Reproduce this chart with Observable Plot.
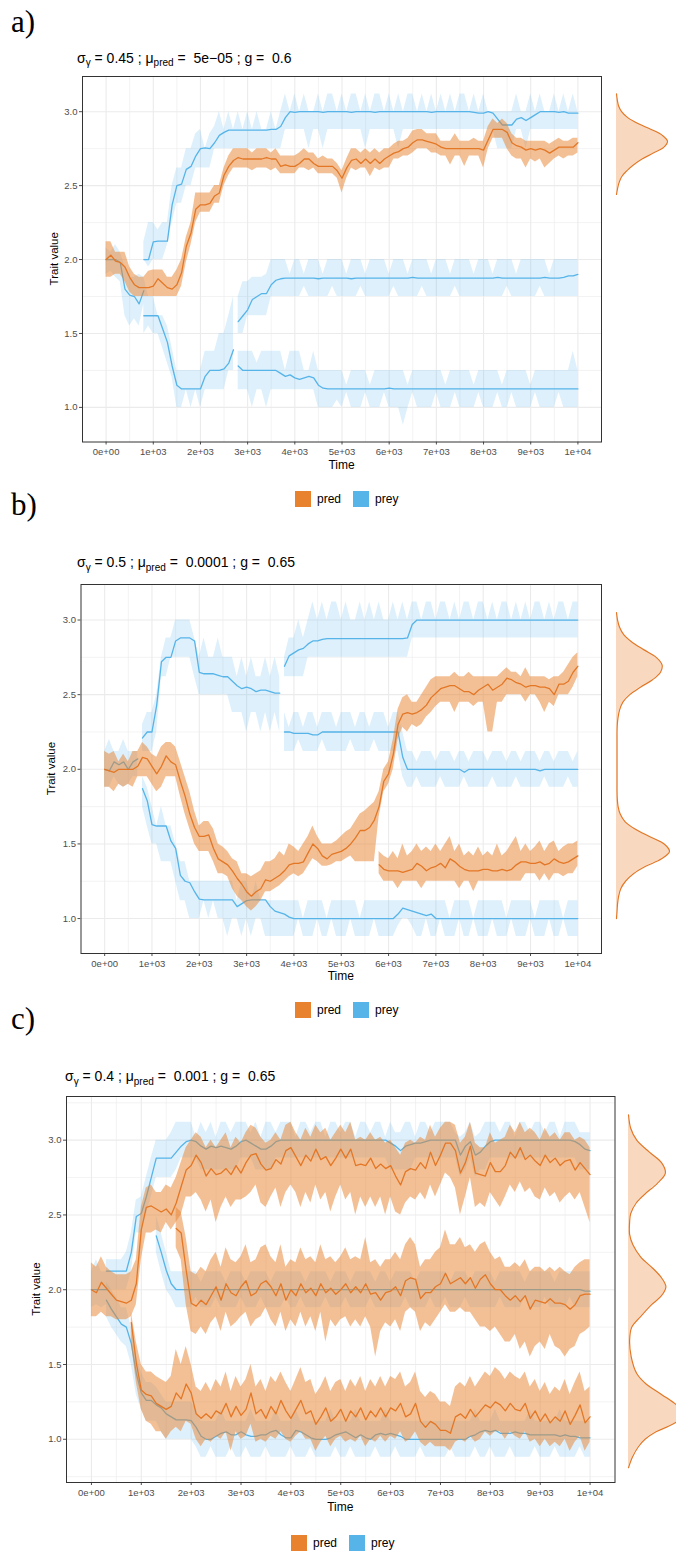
<!DOCTYPE html>
<html><head><meta charset="utf-8">
<script src="https://cdn.jsdelivr.net/npm/d3@7"></script>
<script src="https://cdn.jsdelivr.net/npm/@observablehq/plot@0.6"></script>
<style>
body{margin:0;background:#fff;}
#page{position:relative;width:676px;height:1554px;overflow:hidden;background:#fff;}
</style></head>
<body><div id="page"></div>
<script>
// ---------- shared labels / ticks ----------
const xTickValues = [0,1000,2000,3000,4000,5000,6000,7000,8000,9000,10000];
const xTickLabels = ["0e+00","1e+03","2e+03","3e+03","4e+03","5e+03","6e+03","7e+03","8e+03","9e+03","1e+04"];
const xMinorValues = [500,1500,2500,3500,4500,5500,6500,7500,8500,9500];
const yTickValues = [1.0,1.5,2.0,2.5,3.0];
const yTickLabels = ["1.0","1.5","2.0","2.5","3.0"];
const yMinorValues = [0.75,1.25,1.75,2.25,2.75,3.25];
const legendLabels = ["pred","prey"];
const panelLetters = ["a)","b)","c)"];
const titleSigma = ["0.45","0.5","0.4"];
const titleMu = ["5e\u221205","0.0001","0.001"];
const titleG = ["0.6","0.65","0.65"];

// ---------- panel a (time step 100) ----------
const aPredMean=[2.0,2.03,1.99,1.98,1.95,1.88,1.83,1.81,1.81,1.81,
1.82,1.87,1.84,1.81,1.80,1.83,1.91,2.09,2.18,2.34,
2.37,2.37,2.38,2.43,2.45,2.57,2.63,2.67,2.69,2.68,
2.68,2.68,2.68,2.68,2.69,2.68,2.68,2.63,2.64,2.63,
2.63,2.65,2.68,2.68,2.65,2.63,2.63,2.63,2.63,2.60,
2.55,2.62,2.67,2.68,2.65,2.68,2.65,2.68,2.65,2.68,
2.70,2.72,2.73,2.75,2.76,2.79,2.81,2.81,2.80,2.79,
2.78,2.76,2.75,2.75,2.75,2.75,2.75,2.75,2.75,2.75,
2.74,2.81,2.88,2.88,2.88,2.86,2.79,2.77,2.76,2.74,
2.75,2.74,2.75,2.74,2.72,2.74,2.76,2.76,2.76,2.76,
2.79];
const aPredLo=[1.88,1.88,1.9,1.9,1.85,1.78,1.75,1.75,1.75,1.75,
1.75,1.75,1.75,1.75,1.75,1.75,1.82,1.98,2.1,2.25,
2.32,2.32,2.32,2.38,2.38,2.5,2.57,2.62,2.62,2.62,
2.62,2.6,2.62,2.62,2.62,2.6,2.62,2.58,2.58,2.58,
2.58,2.62,2.62,2.6,2.62,2.58,2.58,2.58,2.58,2.55,
2.45,2.55,2.62,2.6,2.62,2.62,2.56,2.62,2.6,2.62,
2.62,2.68,2.68,2.7,2.7,2.72,2.75,2.75,2.75,2.72,
2.72,2.7,2.7,2.64,2.7,2.7,2.63,2.7,2.7,2.7,
2.62,2.75,2.82,2.82,2.82,2.75,2.7,2.68,2.68,2.62,
2.68,2.66,2.68,2.62,2.65,2.68,2.7,2.68,2.7,2.7,
2.72];
const aPredHi=[2.12,2.12,2.05,2.05,2.05,1.95,1.9,1.88,1.88,1.92,
1.93,1.93,1.93,1.88,1.88,1.93,2.0,2.15,2.25,2.45,
2.45,2.45,2.45,2.5,2.5,2.62,2.7,2.75,2.75,2.75,
2.75,2.72,2.75,2.75,2.75,2.72,2.75,2.7,2.7,2.7,
2.7,2.72,2.75,2.72,2.72,2.68,2.7,2.68,2.68,2.65,
2.6,2.68,2.75,2.75,2.72,2.75,2.72,2.75,2.72,2.75,
2.75,2.78,2.8,2.8,2.82,2.87,2.88,2.88,2.85,2.85,
2.85,2.8,2.8,2.8,2.85,2.8,2.8,2.8,2.82,2.8,
2.8,2.9,2.95,2.92,2.95,2.92,2.85,2.82,2.82,2.8,
2.8,2.8,2.8,2.8,2.78,2.8,2.82,2.8,2.8,2.82,
2.82];
const aPrey0Mean=[2.0,2.0,2.0,1.98,1.8,1.76,1.75,1.7,1.79];
const aPrey0Lo=[1.9,1.92,1.88,1.85,1.62,1.55,1.6,1.55,1.7];
const aPrey0Hi=[2.08,2.05,2.1,2.05,1.95,1.88,1.88,1.9,1.88];
const aPreyUMean=[2.0,2.0,
2.12,2.125,2.125,2.125,2.37,2.5,2.51,2.61,2.63,2.7,
2.75,2.755,2.75,2.79,2.84,2.86,2.875,2.875,2.875,2.875,
2.875,2.875,2.875,2.875,2.875,2.88,2.88,2.9,2.96,3.0,
2.995,3.0,3.0,3.0,3.0,3.0,2.995,3.0,3.0,3.0,
3.0,3.0,2.995,3.0,3.0,3.0,3.0,2.995,3.0,3.0,
3.0,3.0,3.0,3.0,3.0,3.0,3.0,3.0,3.0,2.995,
3.0,3.0,3.0,3.0,3.0,3.0,3.0,3.0,2.995,2.99,
2.99,3.0,2.99,2.95,2.91,2.91,2.91,2.95,2.96,2.94,
2.96,2.98,3.0,3.0,3.0,3.0,2.995,3.0,2.99,2.99,
2.99];
const aPreyULo=[2.0,1.95,
2.0,2.0,2.0,2.1,2.25,2.38,2.38,2.5,2.5,2.62,
2.62,2.62,2.62,2.75,2.75,2.75,2.75,2.75,2.75,2.75,
2.75,2.75,2.75,2.75,2.75,2.75,2.75,2.75,2.88,2.88,
2.88,2.88,2.88,2.75,2.88,2.88,2.75,2.88,2.88,2.88,
2.88,2.88,2.88,2.88,2.88,2.75,2.88,2.88,2.88,2.88,
2.88,2.88,2.75,2.88,2.88,2.88,2.88,2.88,2.88,2.88,
2.88,2.88,2.88,2.88,2.88,2.88,2.88,2.88,2.88,2.88,
2.88,2.88,2.88,2.75,2.75,2.75,2.75,2.88,2.88,2.75,
2.88,2.88,2.88,2.88,2.88,2.88,2.88,2.88,2.88,2.88,
2.88];
const aPreyUHi=[2.12,2.25,
2.25,2.2,2.25,2.25,2.5,2.62,2.62,2.75,2.75,2.85,
2.88,2.75,2.85,2.9,3.0,2.88,3.0,2.88,3.0,2.88,
3.0,2.88,3.0,2.88,2.88,3.0,2.88,3.0,3.12,3.0,
3.12,3.0,3.12,3.0,3.0,3.12,3.0,3.12,3.12,3.0,
3.12,3.0,3.12,3.12,3.0,3.12,3.0,3.12,3.12,3.0,
3.12,3.0,3.12,3.0,3.12,3.12,3.0,3.12,3.0,3.12,
3.0,3.12,3.0,3.12,3.0,3.12,3.12,3.0,3.12,3.0,
3.12,3.0,3.0,3.0,3.0,3.0,3.0,3.12,3.0,3.0,
3.12,3.0,3.12,3.0,3.0,3.12,3.0,3.12,3.0,3.12,
3.0];
const aPreyL1Mean=[1.62,1.62,1.62,1.62,1.53,1.44,1.28,1.15,1.125,1.125,1.125,1.125,1.125,1.21,1.25,1.25,1.25,1.26,1.3,1.39];
const aPreyL1Lo=[1.5,1.55,1.5,1.5,1.4,1.3,1.2,1.0,1.0,1.12,1.0,1.12,1.0,1.12,1.12,1.12,1.12,1.12,1.25,1.25];
const aPreyL1Hi=[1.88,1.75,1.75,1.62,1.62,1.55,1.4,1.25,1.25,1.25,1.25,1.25,1.25,1.38,1.38,1.38,1.5,1.5,1.62,1.75];
const aPreyMMean=[1.58,1.62,
1.66,1.73,1.75,1.77,1.77,1.83,1.86,1.87,1.875,1.875,
1.875,1.875,1.875,1.875,1.875,1.87,1.875,1.875,1.875,1.875,
1.875,1.875,1.87,1.875,1.875,1.875,1.875,1.875,1.875,1.875,
1.875,1.875,1.875,1.875,1.875,1.88,1.875,1.875,1.875,1.875,
1.875,1.875,1.875,1.875,1.875,1.875,1.875,1.875,1.875,1.875,
1.875,1.875,1.875,1.88,1.875,1.875,1.875,1.875,1.875,1.875,
1.875,1.875,1.875,1.88,1.875,1.875,1.875,1.88,1.89,1.89,
1.9];
const aPreyMLo=[1.5,1.5,
1.62,1.62,1.62,1.62,1.62,1.75,1.75,1.75,1.75,1.75,
1.75,1.75,1.82,1.75,1.75,1.75,1.75,1.75,1.82,1.75,
1.75,1.75,1.75,1.75,1.82,1.75,1.75,1.75,1.75,1.75,
1.75,1.82,1.75,1.75,1.75,1.75,1.75,1.82,1.75,1.75,
1.75,1.75,1.75,1.75,1.82,1.75,1.75,1.75,1.75,1.75,
1.75,1.75,1.75,1.75,1.75,1.82,1.75,1.75,1.75,1.75,
1.75,1.75,1.82,1.75,1.75,1.75,1.75,1.75,1.75,1.75,
1.75];
const aPreyMHi=[1.75,1.85,
1.85,1.88,1.88,1.88,1.9,2.0,2.0,2.0,2.0,1.9,
2.0,2.0,1.9,2.0,2.0,2.0,1.9,2.0,2.0,2.0,
2.0,1.9,2.0,2.0,2.0,1.9,2.0,2.0,2.0,2.0,
1.9,2.0,2.0,2.0,1.9,2.0,2.0,2.0,2.0,1.9,
2.0,2.0,2.0,1.9,2.0,2.0,2.0,2.0,1.9,2.0,
2.0,2.0,1.9,2.0,2.0,2.0,2.0,1.9,2.0,2.0,
2.0,2.0,2.0,2.0,1.9,2.0,2.0,2.0,2.0,2.0,
2.0];
const aPreyL2Mean=[1.28,1.25,
1.25,1.25,1.25,1.25,1.25,1.25,1.25,1.23,1.21,1.22,
1.2,1.19,1.2,1.21,1.2,1.15,1.13,1.125,1.125,1.125,
1.125,1.125,1.125,1.125,1.125,1.125,1.125,1.125,1.125,1.125,
1.13,1.125,1.125,1.125,1.125,1.125,1.125,1.125,1.125,1.125,
1.125,1.125,1.125,1.125,1.125,1.125,1.125,1.125,1.125,1.125,
1.125,1.125,1.125,1.125,1.125,1.125,1.125,1.125,1.125,1.125,
1.125,1.125,1.125,1.125,1.125,1.125,1.125,1.125,1.125,1.125,
1.125];
const aPreyL2Lo=[1.12,1.12,
1.12,1.0,1.12,1.12,1.0,1.12,1.12,1.12,1.12,1.12,
1.12,1.12,1.12,1.12,1.12,1.0,1.0,1.0,1.0,1.05,
1.0,1.1,1.0,1.0,1.0,1.1,1.0,1.0,1.0,1.1,
1.0,1.0,1.0,0.88,1.0,1.1,1.0,1.0,1.0,1.0,
1.1,1.0,1.0,1.0,1.1,1.0,1.0,1.0,1.0,1.1,
1.0,1.0,1.0,1.1,1.0,1.0,1.1,1.0,1.0,1.0,
1.0,1.1,1.0,1.0,1.0,1.0,1.1,1.0,1.0,1.0,
1.0];
const aPreyL2Hi=[1.38,1.38,
1.38,1.38,1.3,1.38,1.38,1.38,1.38,1.38,1.25,1.38,
1.38,1.38,1.25,1.25,1.38,1.25,1.25,1.25,1.25,1.25,
1.25,1.15,1.25,1.25,1.25,1.25,1.15,1.25,1.25,1.25,
1.25,1.25,1.25,1.25,1.15,1.25,1.25,1.25,1.25,1.25,
1.25,1.25,1.15,1.25,1.25,1.25,1.25,1.25,1.15,1.25,
1.25,1.25,1.25,1.25,1.15,1.25,1.25,1.25,1.25,1.25,
1.15,1.25,1.25,1.25,1.25,1.25,1.25,1.25,1.25,1.38,
1.25];
const densAValue=[2.44,2.48,2.52,2.56,2.60,2.64,2.68,2.72,2.76,2.80,2.84,2.88,2.92,2.96,3.00,3.04,3.08,3.12];
const densADensity=[0,0.02,0.05,0.1,0.2,0.33,0.5,0.72,0.93,1.0,0.9,0.68,0.42,0.22,0.1,0.04,0.015,0];

// ---------- panel b ----------
const bPredMean=[2.0,1.99,1.98,2.0,2.0,2.0,2.0,2.02,2.08,2.07,
2.02,1.97,2.02,2.09,2.05,2.03,1.92,1.82,1.7,1.61,
1.55,1.55,1.56,1.47,1.4,1.38,1.36,1.32,1.27,1.23,
1.18,1.15,1.18,1.2,1.26,1.25,1.27,1.29,1.32,1.36,
1.37,1.37,1.38,1.44,1.5,1.47,1.42,1.4,1.43,1.44,
1.45,1.47,1.5,1.54,1.59,1.59,1.61,1.66,1.75,1.92,
1.97,2.1,2.3,2.37,2.38,2.37,2.38,2.4,2.43,2.48,
2.51,2.54,2.55,2.56,2.56,2.54,2.52,2.52,2.5,2.53,
2.55,2.57,2.53,2.55,2.57,2.61,2.6,2.58,2.57,2.55,
2.56,2.56,2.55,2.55,2.54,2.5,2.57,2.57,2.59,2.65,
2.69];
const bPredLo=[1.88,1.88,1.85,1.9,1.88,1.9,1.88,1.95,1.95,1.95,
1.9,1.85,1.88,1.95,1.95,1.95,1.82,1.7,1.6,1.5,
1.45,1.45,1.45,1.38,1.3,1.3,1.28,1.2,1.15,1.12,
1.08,1.05,1.08,1.12,1.18,1.18,1.2,1.22,1.25,1.28,
1.3,1.28,1.3,1.35,1.4,1.38,1.35,1.35,1.36,1.38,
1.38,1.4,1.42,1.38,1.38,1.38,1.38,1.38,1.68,1.85,
1.9,2.0,2.2,2.28,2.25,2.3,2.28,2.3,2.35,2.38,
2.42,2.45,2.45,2.45,2.38,2.45,2.45,2.45,2.42,2.45,
2.45,2.25,2.25,2.45,2.45,2.5,2.5,2.5,2.5,2.45,
2.5,2.5,2.45,2.38,2.45,2.42,2.5,2.5,2.5,2.55,
2.62];
const bPredHi=[2.12,2.1,2.12,2.05,2.1,2.05,2.12,2.12,2.18,2.15,
2.1,2.08,2.15,2.18,2.18,2.15,2.05,1.95,1.85,1.72,
1.62,1.65,1.65,1.6,1.5,1.48,1.45,1.4,1.38,1.3,
1.3,1.28,1.3,1.32,1.38,1.38,1.4,1.45,1.42,1.5,
1.48,1.45,1.5,1.55,1.62,1.55,1.5,1.5,1.5,1.52,
1.55,1.58,1.6,1.65,1.7,1.72,1.75,1.78,1.85,2.0,
2.05,2.2,2.4,2.48,2.5,2.45,2.45,2.5,2.55,2.6,
2.62,2.62,2.62,2.62,2.65,2.62,2.62,2.65,2.62,2.62,
2.62,2.62,2.62,2.62,2.65,2.68,2.65,2.65,2.62,2.68,
2.62,2.62,2.62,2.62,2.6,2.62,2.62,2.65,2.7,2.75,
2.78];
const bPredLowMean=[1.36,1.33,
1.32,1.32,1.32,1.31,1.32,1.33,1.37,1.35,1.32,1.34,
1.35,1.37,1.34,1.4,1.38,1.35,1.33,1.32,1.32,1.32,
1.33,1.33,1.32,1.32,1.33,1.32,1.33,1.36,1.38,1.38,
1.37,1.37,1.38,1.36,1.37,1.4,1.38,1.37,1.38,1.4,
1.42];
const bPredLowLo=[1.3,1.25,
1.25,1.25,1.2,1.25,1.25,1.25,1.25,1.2,1.25,1.25,
1.25,1.25,1.25,1.25,1.25,1.2,1.25,1.25,1.18,1.25,
1.25,1.25,1.25,1.25,1.25,1.25,1.25,1.25,1.25,1.3,
1.3,1.3,1.25,1.3,1.25,1.3,1.3,1.28,1.3,1.3,
1.35];
const bPredLowHi=[1.45,1.42,
1.4,1.45,1.4,1.5,1.42,1.45,1.5,1.45,1.48,1.45,
1.5,1.45,1.5,1.55,1.45,1.5,1.42,1.45,1.42,1.48,
1.42,1.45,1.42,1.5,1.42,1.45,1.5,1.55,1.45,1.5,
1.45,1.48,1.52,1.45,1.5,1.52,1.45,1.48,1.5,1.5,
1.52];
const bPrey0Mean=[2.0,1.99,2.05,2.03,2.05,2.0,2.05,2.07];
const bPrey0Lo=[1.88,1.88,1.95,1.9,1.88,1.9,1.95,1.95];
const bPrey0Hi=[2.12,2.2,2.12,2.12,2.2,2.12,2.12,2.12];
const bPreyU1Mean=[2.21,2.25,2.25,2.43,2.72,2.75,2.75,2.86,2.88,2.88,
2.88,2.86,2.65,2.64,2.64,2.64,2.63,2.62,2.62,2.59,
2.56,2.54,2.55,2.54,2.52,2.53,2.53,2.52,2.51,2.51];
const bPreyU1Lo=[2.12,2.12,2.12,2.25,2.62,2.62,2.75,2.75,2.75,2.75,
2.75,2.62,2.5,2.5,2.5,2.5,2.5,2.5,2.5,2.38,
2.38,2.38,2.25,2.38,2.38,2.25,2.38,2.25,2.38,2.25];
const bPreyU1Hi=[2.3,2.38,2.38,2.5,2.75,2.88,2.88,3.0,3.0,3.0,
3.0,2.88,2.75,2.88,2.75,2.75,2.88,2.75,2.75,2.75,
2.62,2.75,2.62,2.75,2.62,2.62,2.75,2.62,2.75,2.62];
const bPreyU2Mean=[2.69,2.76,
2.78,2.8,2.81,2.84,2.86,2.86,2.87,2.875,2.875,2.875,
2.875,2.875,2.875,2.875,2.875,2.875,2.875,2.875,2.875,2.875,
2.875,2.875,2.875,2.875,2.88,2.97,3.0,3.0,3.0,3.0,
3.0,3.0,3.0,3.0,3.0,3.0,3.0,3.0,3.0,3.0,
3.0,3.0,3.0,3.0,3.0,3.0,3.0,3.0,3.0,3.0,
3.0,3.0,3.0,3.0,3.0,3.0,3.0,3.0,3.0,3.0,
3.0];
const bPreyU2Lo=[2.62,2.62,
2.62,2.62,2.62,2.75,2.75,2.75,2.75,2.75,2.75,2.75,
2.75,2.75,2.75,2.75,2.75,2.75,2.75,2.75,2.75,2.75,
2.75,2.75,2.75,2.75,2.75,2.88,2.88,2.88,2.88,2.88,
2.88,2.88,2.88,2.88,2.88,2.88,2.88,2.88,2.88,2.88,
2.88,2.88,2.88,2.88,2.88,2.88,2.88,2.88,2.88,2.88,
2.88,2.88,2.88,2.88,2.88,2.88,2.88,2.88,2.88,2.88,
2.88];
const bPreyU2Hi=[2.75,2.88,
2.88,3.0,2.88,3.0,3.12,3.0,3.12,3.0,3.12,3.12,
3.0,3.12,3.0,3.0,3.12,3.0,3.12,3.0,3.12,3.0,
3.0,3.12,3.0,3.12,3.0,3.12,3.12,3.0,3.12,3.12,
3.0,3.12,3.12,3.0,3.12,3.0,3.12,3.12,3.0,3.12,
3.12,3.0,3.12,3.0,3.12,3.12,3.0,3.12,3.0,3.12,
3.0,3.12,3.12,3.0,3.12,3.0,3.12,3.12,3.0,3.12,
3.12];
const bPreyMMean=[2.25,2.25,
2.24,2.24,2.24,2.24,2.23,2.23,2.25,2.25,2.25,2.25,
2.25,2.25,2.25,2.25,2.25,2.25,2.25,2.25,2.25,2.25,
2.25,2.25,2.25,2.08,2.0,2.0,2.0,2.0,2.0,2.0,
2.0,2.0,2.0,2.0,2.0,2.0,1.98,2.0,2.0,2.0,
2.0,2.0,2.0,2.0,2.0,2.0,2.0,2.0,2.0,2.0,
2.0,2.0,1.99,2.0,2.0,2.0,2.0,2.0,2.0,2.0,
2.0];
const bPreyMLo=[2.12,2.12,
2.12,2.2,2.12,2.12,2.12,2.12,2.2,2.12,2.12,2.12,
2.12,2.12,2.2,2.12,2.12,2.12,2.12,2.2,2.12,2.12,
2.12,2.12,2.12,1.95,1.88,1.88,1.95,1.88,1.88,1.88,
1.88,1.95,1.88,1.88,1.88,1.88,1.95,1.88,1.88,1.88,
1.88,1.88,1.95,1.88,1.88,1.88,1.88,1.95,1.88,1.88,
1.88,1.88,1.88,1.95,1.88,1.88,1.88,1.88,1.95,1.88,
1.88];
const bPreyMHi=[2.38,2.28,
2.38,2.38,2.28,2.38,2.38,2.28,2.38,2.38,2.38,2.28,
2.38,2.38,2.38,2.28,2.38,2.38,2.28,2.38,2.38,2.38,
2.28,2.38,2.38,2.25,2.12,2.12,2.05,2.12,2.12,2.12,
2.05,2.12,2.12,2.12,2.05,2.12,2.12,2.05,2.12,2.12,
2.12,2.05,2.12,2.12,2.12,2.05,2.12,2.12,2.05,2.12,
2.12,2.12,2.05,2.12,2.12,2.05,2.12,2.12,2.12,2.05,
2.12];
const bPreyLMean=[1.87,1.79,
1.63,1.62,1.62,1.62,1.52,1.47,1.29,1.25,1.24,1.18,
1.13,1.125,1.125,1.125,1.125,1.125,1.125,1.125,1.08,1.1,
1.12,1.125,1.125,1.125,1.125,1.08,1.05,1.04,1.03,1.01,
1.0,1.0,1.0,1.0,1.0,1.0,1.0,1.0,1.0,1.0,
1.0,1.0,1.0,1.0,1.0,1.0,1.0,1.0,1.0,1.0,
1.0,1.0,1.03,1.07,1.06,1.05,1.04,1.03,1.02,1.03,
1.0,1.0,1.0,1.0,1.0,1.0,1.0,1.0,1.0,1.0,
1.0,1.0,1.0,1.0,1.0,1.0,1.0,1.0,1.0,1.0,
1.0,1.0,1.0,1.0,1.0,1.0,1.0,1.0,1.0,1.0,
1.0];
const bPreyLLo=[1.75,1.62,
1.5,1.5,1.38,1.38,1.38,1.25,1.12,1.12,1.0,1.0,
1.0,1.12,1.0,1.12,1.0,1.0,0.88,1.0,1.0,0.88,
1.0,0.88,1.0,1.0,0.88,0.88,0.88,0.88,0.88,0.88,
0.88,1.0,0.88,0.88,0.88,1.0,0.88,0.88,1.0,0.88,
0.88,0.88,1.0,0.88,0.88,0.88,0.88,1.0,0.88,0.88,
0.88,0.88,0.95,1.0,1.0,0.95,0.88,0.88,1.0,0.88,
0.88,1.0,0.88,0.88,0.88,1.0,0.88,0.88,1.0,0.88,
0.88,0.88,1.0,0.88,0.88,0.88,1.0,0.88,0.88,0.88,
1.0,0.88,0.88,0.88,1.0,0.88,0.88,1.0,0.88,0.88,
0.88];
const bPreyLHi=[1.95,1.88,
1.75,1.62,1.75,1.62,1.62,1.5,1.38,1.38,1.25,1.25,
1.25,1.25,1.25,1.25,1.25,1.25,1.25,1.25,1.12,1.25,
1.25,1.12,1.25,1.12,1.12,1.12,1.12,1.12,1.12,1.12,
1.12,1.12,1.0,1.12,1.12,1.12,1.12,1.0,1.12,1.12,
1.12,1.12,1.12,1.12,1.0,1.12,1.12,1.12,1.12,1.12,
1.12,1.12,1.12,1.12,1.12,1.12,1.12,1.12,1.12,1.12,
1.12,1.12,1.12,1.0,1.12,1.12,1.12,1.12,1.0,1.12,
1.12,1.12,1.12,1.12,1.12,1.0,1.12,1.12,1.12,1.12,
1.12,1.0,1.12,1.12,1.12,1.12,1.12,1.0,1.12,1.12,
1.12];
const densBValue=[1.00,1.05,1.10,1.15,1.20,1.25,1.30,1.35,1.40,1.45,1.50,1.55,1.60,1.65,1.70,1.75,1.80,
1.85,1.90,1.95,2.00,2.05,2.10,2.15,2.20,2.25,
2.30,2.35,2.40,2.45,2.50,2.55,2.60,2.65,2.70,2.75,2.80,2.85,2.90,2.95,3.00,3.05];
const densBDensity=[0,0.01,0.02,0.04,0.08,0.17,0.32,0.55,0.85,1.0,0.9,0.62,0.35,0.16,0.07,0.03,0.015,
0.01,0.01,0.01,0.01,0.01,0.01,0.01,0.01,0.01,
0.015,0.03,0.06,0.12,0.25,0.45,0.68,0.83,0.86,0.75,0.52,0.3,0.14,0.06,0.02,0];

// ---------- panel c ----------
const cPredTMean=[2.0,1.98,2.05,2.01,1.97,1.93,1.92,1.91,1.93,2.04,
2.4,2.55,2.56,2.54,2.52,2.54,2.5,2.58,2.69,2.8,
2.83,2.9,2.85,2.76,2.81,2.77,2.78,2.81,2.77,2.83,
2.78,2.85,2.9,2.91,2.84,2.8,2.81,2.87,2.84,2.93,
2.95,2.89,2.83,2.9,2.86,2.94,2.87,2.89,2.83,2.88,
2.94,2.88,2.94,2.83,2.84,2.83,2.88,2.81,2.84,2.81,
2.83,2.76,2.7,2.79,2.81,2.8,2.85,2.81,2.92,2.83,
2.9,2.98,2.98,2.93,2.78,2.85,2.96,2.78,2.77,2.76,
2.85,2.79,2.79,2.83,2.92,2.88,2.95,2.87,2.9,2.86,
2.83,2.9,2.85,2.88,2.83,2.86,2.87,2.8,2.85,2.81,
2.77];
const cPredTLo=[1.82,1.82,1.85,1.82,1.82,1.8,1.8,1.8,1.82,1.9,
2.2,2.38,2.38,2.4,2.38,2.45,2.4,2.45,2.5,2.62,
2.62,2.65,2.6,2.52,2.6,2.45,2.55,2.62,2.55,2.6,
2.6,2.62,2.65,2.7,2.58,2.55,2.62,2.68,2.55,2.65,
2.7,2.65,2.55,2.65,2.58,2.7,2.6,2.65,2.52,2.62,
2.7,2.6,2.65,2.5,2.62,2.55,2.62,2.55,2.62,2.5,
2.62,2.52,2.5,2.58,2.62,2.6,2.65,2.6,2.7,2.62,
2.7,2.78,2.75,2.68,2.5,2.62,2.75,2.55,2.58,2.55,
2.65,2.6,2.55,2.62,2.7,2.65,2.72,2.65,2.68,2.62,
2.6,2.68,2.62,2.65,2.58,2.62,2.65,2.6,2.65,2.55,
2.45];
const cPredTHi=[2.18,2.15,2.22,2.15,2.12,2.1,2.1,2.1,2.12,2.2,
2.55,2.68,2.7,2.65,2.65,2.7,2.68,2.75,2.85,2.95,
3.0,3.05,3.02,2.95,3.0,2.95,3.0,3.05,2.95,3.02,
2.98,3.05,3.1,3.08,3.02,2.98,3.0,3.05,3.0,3.1,
3.12,3.05,3.0,3.08,3.02,3.1,3.05,3.08,3.0,3.05,
3.1,3.05,3.12,3.0,3.02,3.0,3.05,3.0,3.02,2.98,
3.0,2.95,2.9,2.98,3.0,2.98,3.02,3.0,3.1,3.02,
3.08,3.12,3.12,3.1,2.98,3.02,3.12,2.98,2.95,2.95,
3.05,2.98,3.0,3.02,3.1,3.05,3.12,3.05,3.08,3.05,
3.0,3.08,3.02,3.05,3.0,3.05,3.05,3.0,3.02,3.0,
2.95];
const cPredMMean=[2.41,2.38,2.13,
1.91,1.89,1.93,1.9,1.96,2.02,1.93,2.04,1.98,1.96,
2.02,2.06,1.96,1.98,2.04,2.06,2.02,1.96,2.04,1.93,
2.0,1.96,2.04,1.98,2.01,1.96,2.04,1.98,2.01,1.97,
2.0,2.04,1.98,2.02,1.98,2.04,1.97,1.98,1.93,1.98,
1.99,2.02,1.96,2.06,2.08,2.07,1.94,1.98,1.98,2.02,
2.04,2.11,2.04,2.06,2.08,2.04,2.08,2.01,2.07,2.1,
2.04,2.0,2.0,1.96,1.93,1.96,1.92,1.96,1.87,1.93,
1.92,1.91,1.94,1.91,1.91,1.9,1.87,1.9,1.96,1.97,
1.97];
const cPredMLo=[2.28,2.2,1.9,
1.72,1.7,1.75,1.7,1.78,1.82,1.72,1.85,1.75,1.78,
1.82,1.85,1.75,1.8,1.82,1.88,1.8,1.75,1.85,1.72,
1.8,1.75,1.85,1.75,1.82,1.72,1.85,1.65,1.8,1.75,
1.8,1.82,1.75,1.8,1.75,1.82,1.75,1.55,1.72,1.78,
1.75,1.8,1.72,1.85,1.88,1.85,1.72,1.78,1.75,1.8,
1.85,1.9,1.85,1.85,1.88,1.85,1.85,1.8,1.75,1.75,
1.72,1.75,1.7,1.65,1.65,1.7,1.6,1.65,1.55,1.62,
1.65,1.6,1.7,1.62,1.6,1.55,1.6,1.62,1.7,1.72,
1.75];
const cPredMHi=[2.55,2.52,2.35,
2.12,2.1,2.15,2.12,2.2,2.25,2.15,2.28,2.2,2.18,
2.22,2.3,2.18,2.2,2.28,2.3,2.22,2.18,2.3,2.15,
2.2,2.18,2.28,2.2,2.22,2.18,2.3,2.2,2.22,2.18,
2.22,2.28,2.2,2.22,2.2,2.35,2.18,2.2,2.15,2.2,
2.2,2.25,2.2,2.3,2.35,2.3,2.15,2.2,2.2,2.25,
2.28,2.4,2.3,2.3,2.35,2.28,2.3,2.25,2.3,2.32,
2.25,2.2,2.22,2.15,2.15,2.18,2.15,2.2,2.12,2.15,
2.15,2.12,2.15,2.12,2.15,2.12,2.1,2.15,2.18,2.2,
2.2];
const cPredLMean=[1.78,1.51,
1.33,1.3,1.29,1.24,1.22,1.2,1.22,1.31,1.27,1.37,
1.31,1.17,1.14,1.17,1.14,1.19,1.17,1.24,1.15,1.22,
1.16,1.2,1.31,1.17,1.2,1.14,1.22,1.17,1.26,1.19,
1.14,1.2,1.26,1.17,1.19,1.1,1.15,1.21,1.12,1.15,
1.2,1.12,1.19,1.15,1.21,1.13,1.19,1.15,1.21,1.15,
1.21,1.19,1.24,1.15,1.17,1.24,1.12,1.08,1.12,1.1,
1.06,1.06,1.04,1.15,1.17,1.14,1.2,1.15,1.19,1.23,
1.21,1.25,1.23,1.19,1.24,1.2,1.19,1.24,1.14,1.19,
1.12,1.17,1.11,1.15,1.12,1.19,1.1,1.16,1.23,1.11,
1.15];
const cPredLLo=[1.65,1.38,
1.2,1.12,1.1,1.05,1.05,1.0,1.05,1.08,1.05,1.12,
1.1,1.0,0.95,1.0,0.98,1.02,1.0,1.05,0.92,1.05,
1.0,1.02,1.1,0.98,1.0,0.98,1.02,1.0,1.05,1.0,
0.98,1.02,1.05,1.0,1.0,0.92,0.98,1.02,0.95,1.0,
1.02,0.98,1.0,0.98,1.02,0.95,1.0,0.98,1.02,0.98,
1.02,1.0,1.05,0.98,1.0,1.05,0.98,0.95,0.98,0.95,
0.95,0.95,0.92,0.98,1.0,0.98,1.02,0.98,1.0,1.05,
1.02,1.05,1.05,1.0,1.05,1.02,1.0,1.05,0.98,1.0,
0.95,1.0,0.95,0.98,0.95,1.0,0.92,0.98,1.02,0.92,
0.98];
const cPredLHi=[1.85,1.65,
1.5,1.45,1.45,1.42,1.4,1.38,1.42,1.6,1.5,1.62,
1.5,1.35,1.32,1.38,1.32,1.4,1.35,1.45,1.32,1.42,
1.35,1.4,1.5,1.35,1.4,1.32,1.42,1.38,1.45,1.38,
1.32,1.4,1.48,1.38,1.4,1.3,1.35,1.42,1.32,1.38,
1.4,1.32,1.4,1.35,1.42,1.32,1.4,1.35,1.42,1.35,
1.42,1.4,1.45,1.35,1.38,1.45,1.32,1.28,1.32,1.3,
1.25,1.25,1.22,1.35,1.38,1.35,1.42,1.35,1.4,1.45,
1.42,1.48,1.45,1.4,1.45,1.42,1.4,1.45,1.35,1.4,
1.32,1.38,1.3,1.35,1.32,1.4,1.3,1.38,1.45,1.32,
1.35];
const cPrey0Mean=[2.0,2.0,2.0,2.0];
const cPrey0Lo=[1.88,1.9,1.88,1.9];
const cPrey0Hi=[2.12,2.2,2.12,2.12];
const cPreyUMean=[2.125,2.125,2.125,2.125,2.125,2.25,2.49,
2.51,2.62,2.75,2.88,2.88,2.88,2.88,2.92,2.96,2.99,
3.0,2.99,2.96,2.94,2.96,2.95,2.96,2.95,2.94,2.96,
2.99,3.0,2.98,2.96,2.94,2.94,2.96,2.99,3.0,3.0,
3.0,3.0,3.0,3.0,3.0,3.0,3.0,3.0,3.0,3.0,
3.0,3.0,3.0,3.0,3.0,3.0,3.0,3.0,3.0,3.0,
2.98,2.96,2.93,2.96,2.97,2.98,2.98,2.99,3.0,3.0,
3.0,3.0,3.0,3.0,2.9,2.96,2.99,2.9,2.92,2.96,
2.99,3.0,3.0,3.0,3.0,3.0,3.0,3.0,3.0,3.0,
3.0,3.0,3.0,3.0,3.0,3.0,3.0,2.99,2.97,2.94,
2.93];
const cPreyULo=[2.0,2.0,2.0,2.0,2.0,2.12,2.38,
2.38,2.5,2.62,2.75,2.75,2.75,2.75,2.8,2.88,2.88,
2.88,2.88,2.8,2.8,2.8,2.8,2.8,2.8,2.8,2.8,
2.88,2.88,2.88,2.8,2.8,2.8,2.8,2.88,2.88,2.88,
2.88,2.88,2.88,2.88,2.88,2.88,2.88,2.88,2.88,2.88,
2.88,2.88,2.88,2.88,2.88,2.88,2.88,2.88,2.88,2.88,
2.8,2.8,2.8,2.8,2.8,2.88,2.88,2.88,2.88,2.88,
2.88,2.88,2.88,2.88,2.75,2.8,2.88,2.75,2.8,2.8,
2.88,2.88,2.88,2.88,2.88,2.88,2.88,2.88,2.88,2.88,
2.88,2.88,2.88,2.88,2.88,2.88,2.88,2.88,2.8,2.8,
2.8];
const cPreyUHi=[2.2,2.2,2.2,2.2,2.25,2.38,2.6,
2.62,2.75,2.88,3.0,3.0,3.0,3.05,3.12,3.12,3.12,
3.12,3.02,3.12,3.05,3.12,3.02,3.12,3.12,3.05,3.12,
3.12,3.12,3.05,3.12,3.02,3.12,3.12,3.05,3.12,3.12,
3.12,3.02,3.12,3.12,3.05,3.12,3.12,3.02,3.12,3.12,
3.05,3.12,3.12,3.02,3.12,3.12,3.05,3.12,3.12,3.02,
3.12,3.05,3.05,3.12,3.12,3.02,3.12,3.12,3.05,3.12,
3.12,3.12,3.12,3.05,3.02,3.05,3.12,3.02,3.05,3.12,
3.12,3.12,3.05,3.12,3.12,3.02,3.12,3.12,3.05,3.12,
3.12,3.05,3.12,3.12,3.02,3.12,3.12,3.12,3.05,3.05,
3.05];
const cPreyMMean=[2.36,2.25,2.13,2.04,2.0,2.0,2.0,
2.0,2.0,2.0,2.0,2.0,2.0,2.0,2.0,2.0,2.0,
2.0,2.0,2.0,2.0,2.0,2.0,2.0,2.0,2.0,2.0,
2.0,2.0,2.0,2.0,2.0,2.0,2.0,2.0,2.0,2.0,
2.0,2.0,2.0,2.0,2.0,2.0,2.0,2.0,2.0,2.0,
2.0,2.0,2.0,2.0,2.0,2.0,2.0,2.0,2.0,2.0,
2.0,2.0,2.0,2.0,2.0,2.0,2.0,2.0,2.0,2.0,
2.0,2.0,2.0,2.0,2.0,2.0,2.0,2.0,2.0,2.0,
2.0,2.0,2.0,2.0,2.0,2.0,2.0,2.0,2.0,1.99,
1.99];
const cPreyMLo=[2.25,2.12,2.0,1.95,1.88,1.88,1.88,
1.88,1.95,1.88,1.88,1.88,1.95,1.88,1.88,1.88,1.88,
1.95,1.88,1.88,1.88,1.95,1.88,1.88,1.88,1.88,1.95,
1.88,1.88,1.95,1.88,1.88,1.88,1.88,1.95,1.88,1.88,
1.88,1.95,1.88,1.88,1.88,1.88,1.95,1.88,1.88,1.88,
1.88,1.88,1.88,1.95,1.88,1.88,1.88,1.88,1.95,1.88,
1.88,1.95,1.88,1.88,1.88,1.95,1.88,1.88,1.88,1.88,
1.88,1.88,1.95,1.88,1.88,1.88,1.88,1.95,1.88,1.88,
1.88,1.95,1.88,1.88,1.88,1.88,1.95,1.88,1.88,1.88,
1.88];
const cPreyMHi=[2.5,2.38,2.25,2.12,2.12,2.12,2.12,
2.12,2.12,2.05,2.12,2.12,2.12,2.12,2.05,2.12,2.12,
2.12,2.05,2.12,2.12,2.12,2.12,2.05,2.12,2.12,2.12,
2.12,2.12,2.12,2.05,2.12,2.12,2.12,2.12,2.05,2.12,
2.12,2.12,2.05,2.12,2.12,2.12,2.12,2.05,2.12,2.12,
2.05,2.12,2.12,2.12,2.12,2.05,2.12,2.12,2.12,2.12,
2.12,2.12,2.05,2.12,2.12,2.12,2.05,2.12,2.12,2.12,
2.12,2.05,2.12,2.12,2.12,2.12,2.12,2.05,2.12,2.12,
2.12,2.12,2.12,2.05,2.12,2.12,2.12,2.12,2.12,2.12,
2.12];
const cPreyLMean=[1.93,1.87,1.82,1.77,1.75,1.64,1.44,
1.31,1.26,1.26,1.23,1.21,1.17,1.15,1.13,1.13,1.13,
1.125,1.08,1.02,1.0,1.0,1.02,1.04,1.05,1.03,1.03,
1.05,1.03,1.02,1.02,1.03,1.03,1.05,1.06,1.03,1.01,
1.01,1.06,1.05,1.03,1.01,1.0,1.0,1.0,1.01,1.03,
1.04,1.05,1.03,1.01,1.03,1.01,1.0,1.03,1.04,1.03,
1.04,1.03,1.02,1.0,1.0,1.0,1.0,1.0,1.0,1.0,
1.0,1.0,1.0,1.0,1.0,1.0,1.02,1.03,1.05,1.06,
1.05,1.06,1.04,1.04,1.04,1.05,1.04,1.04,1.03,1.03,
1.03,1.03,1.03,1.03,1.02,1.03,1.02,1.02,1.01,1.01,
1.01];
const cPreyLLo=[1.82,1.75,1.7,1.65,1.62,1.5,1.3,
1.2,1.12,1.12,1.12,1.05,1.0,1.0,1.0,1.0,1.0,
1.0,0.95,0.88,0.88,0.95,0.88,0.88,0.88,0.95,0.88,
0.88,0.95,0.88,0.88,0.88,0.95,0.88,0.88,0.88,0.88,
0.95,0.88,0.88,0.88,0.95,0.88,0.88,0.88,0.88,0.95,
0.88,0.88,0.95,0.88,0.88,0.88,0.88,0.95,0.88,0.88,
0.88,0.95,0.88,0.88,0.88,0.88,0.95,0.88,0.88,0.88,
0.88,0.88,0.95,0.88,0.88,0.88,0.88,0.95,0.88,0.88,
0.95,0.88,0.88,0.88,0.95,0.88,0.88,0.88,0.88,0.95,
0.88,0.88,0.88,0.95,0.88,0.88,0.88,0.88,0.95,0.88,
0.88];
const cPreyLHi=[2.05,2.0,1.95,1.88,1.88,1.75,1.55,
1.45,1.38,1.38,1.35,1.3,1.25,1.25,1.25,1.25,1.25,
1.25,1.2,1.12,1.12,1.12,1.12,1.2,1.12,1.12,1.12,
1.12,1.12,1.2,1.12,1.12,1.12,1.12,1.2,1.12,1.12,
1.12,1.2,1.12,1.12,1.12,1.12,1.12,1.12,1.2,1.12,
1.12,1.12,1.12,1.2,1.12,1.12,1.12,1.12,1.12,1.2,
1.12,1.12,1.12,1.12,1.12,1.12,1.12,1.12,1.12,1.12,
1.12,1.12,1.12,1.12,1.12,1.12,1.12,1.2,1.12,1.12,
1.12,1.2,1.12,1.12,1.12,1.12,1.12,1.12,1.2,1.12,
1.12,1.12,1.12,1.12,1.2,1.12,1.12,1.12,1.12,1.12,
1.12];
const densCValue=[0.81,0.88,0.95,1.0,1.05,1.1,1.16,1.22,1.3,1.37,1.44,1.55,1.66,1.75,1.82,1.9,1.96,2.02,2.08,2.14,2.22,2.3,2.37,2.45,2.51,2.58,2.64,2.71,2.78,2.85,2.92,3.0,3.08,3.17];
const densCDensity=[0,0.07,0.18,0.3,0.5,0.8,1.0,0.9,0.6,0.32,0.15,0.05,0.02,0.06,0.22,0.42,0.6,0.68,0.6,0.45,0.22,0.08,0.02,0.02,0.04,0.14,0.3,0.52,0.67,0.6,0.38,0.15,0.04,0];

// ---------- styling ----------
const FONT = "'Liberation Sans', Arial, Helvetica, sans-serif";
const SERIF = "'Liberation Serif', 'Times New Roman', serif";
const BLUE = "#56B4E9", ORANGE = "#E8822E", ORANGE_LINE = "#E37726", GRID = "#EBEBEB";
const STEP = 100;
const problems = [];
const xFmt = new Map(xTickValues.map((v, i) => [v, xTickLabels[i]]));
const yFmt = new Map(yTickValues.map((v, i) => [v, yTickLabels[i]]));

function series(id, t0, mean, lo, hi) {
  if (mean.length !== lo.length || mean.length !== hi.length) problems.push(`${id}: ${mean.length}/${lo.length}/${hi.length}`);
  return mean.map((m, i) => ({s: id, t: t0 + i * STEP, m, lo: lo[i], hi: hi[i]}));
}
function dens(values, d) {
  if (values.length !== d.length) problems.push(`density ${values.length}/${d.length}`);
  return values.map((v, i) => ({v, d: d[i]}));
}

const panels = [
  {x0: 82, x1: 601, y0: 76, y1: 441.5, yd: [0.766, 3.238], dx: 615.5, dw: 51,
   pred: [series("ap", 0, aPredMean, aPredLo, aPredHi)],
   prey: [series("a0", 0, aPrey0Mean, aPrey0Lo, aPrey0Hi), series("aU", 800, aPreyUMean, aPreyULo, aPreyUHi),
          series("aL1", 800, aPreyL1Mean, aPreyL1Lo, aPreyL1Hi), series("aM", 2800, aPreyMMean, aPreyMLo, aPreyMHi),
          series("aL2", 2800, aPreyL2Mean, aPreyL2Lo, aPreyL2Hi)],
   dens: dens(densAValue, densADensity),
   letterY: 31.5, titleX: 77, titleY: 62.5, ylabX: 53.5, timeY: 468.5, legL: 295, legT: 491},
  {x0: 80.5, x1: 601, y0: 584, y1: 953, yd: [0.766, 3.238], dx: 615.5, dw: 53,
   pred: [series("bp", 0, bPredMean, bPredLo, bPredHi), series("bpl", 5800, bPredLowMean, bPredLowLo, bPredLowHi)],
   prey: [series("b0", 0, bPrey0Mean, bPrey0Lo, bPrey0Hi), series("bU1", 800, bPreyU1Mean, bPreyU1Lo, bPreyU1Hi),
          series("bU2", 3800, bPreyU2Mean, bPreyU2Lo, bPreyU2Hi), series("bM", 3800, bPreyMMean, bPreyMLo, bPreyMHi),
          series("bL", 800, bPreyLMean, bPreyLLo, bPreyLHi)],
   dens: dens(densBValue, densBDensity),
   letterY: 515, titleX: 77, titleY: 567, ylabX: 51, timeY: 980, legL: 295, legT: 1002},
  {x0: 66, x1: 614.5, y0: 1096, y1: 1482, yd: [0.711, 3.292], dx: 627.8, dw: 55,
   pred: [series("cT", 0, cPredTMean, cPredTLo, cPredTHi), series("cM", 1700, cPredMMean, cPredMLo, cPredMHi),
          series("cL", 800, cPredLMean, cPredLLo, cPredLHi)],
   prey: [series("c0", 0, cPrey0Mean, cPrey0Lo, cPrey0Hi), series("cU", 300, cPreyUMean, cPreyULo, cPreyUHi),
          series("cMy", 1300, cPreyMMean, cPreyMLo, cPreyMHi), series("cLy", 300, cPreyLMean, cPreyLLo, cPreyLHi)],
   dens: dens(densCValue, densCDensity),
   letterY: 1029, titleX: 65, titleY: 1081, ylabX: 36, timeY: 1510.5, legL: 291, legT: 1535}
];

const page = document.getElementById("page");
const MT = 3, MB = 26;

panels.forEach((p, k) => {
  const H = (p.y1 - p.y0) + MT + MB;
  const prey = p.prey.flat(), pred = p.pred.flat();
  const yMinor = yMinorValues.filter(v => v > p.yd[0] && v < p.yd[1]);
  const chart = Plot.plot({
    width: 676, height: H,
    marginLeft: p.x0, marginRight: 676 - p.x1, marginTop: MT, marginBottom: MB,
    style: {fontFamily: FONT, fontSize: "9.5px", color: "#4d4d4d", background: "transparent"},
    x: {domain: [-500, 10500], ticks: xTickValues, tickFormat: d => xFmt.get(d), tickSize: 3, tickPadding: 3.5, label: null},
    y: {domain: p.yd, ticks: yTickValues, tickFormat: d => yFmt.get(d), tickSize: 3, tickPadding: 2, label: null},
    marks: [
      Plot.gridX(xMinorValues, {stroke: GRID, strokeOpacity: 1, strokeWidth: 0.6}),
      Plot.gridY(yMinor, {stroke: GRID, strokeOpacity: 1, strokeWidth: 0.6}),
      Plot.gridX(xTickValues, {stroke: GRID, strokeOpacity: 1, strokeWidth: 1.1}),
      Plot.gridY(yTickValues, {stroke: GRID, strokeOpacity: 1, strokeWidth: 1.1}),
      Plot.areaY(prey, {x: "t", y1: "lo", y2: "hi", z: "s", fill: BLUE, fillOpacity: 0.2}),
      Plot.lineY(prey, {x: "t", y: "m", z: "s", stroke: BLUE, strokeWidth: 1.3}),
      Plot.areaY(pred, {x: "t", y1: "lo", y2: "hi", z: "s", fill: ORANGE, fillOpacity: 0.5}),
      Plot.lineY(pred, {x: "t", y: "m", z: "s", stroke: ORANGE_LINE, strokeWidth: 1.3}),
      Plot.frame({stroke: "#333", strokeWidth: 1})
    ]
  });
  Object.assign(chart.style, {position: "absolute", left: "0px", top: (p.y0 - MT) + "px"});
  page.appendChild(chart);

  const dchart = Plot.plot({
    width: p.dw + 12, height: H, marginLeft: 1, marginRight: 11, marginTop: MT, marginBottom: MB,
    style: {background: "transparent", overflow: "visible"},
    x: {domain: [0, 1], range: [1, 1 + p.dw], axis: null},
    y: {domain: p.yd, axis: null},
    marks: [
      Plot.areaX(p.dens, {y: "v", x: "d", fill: ORANGE, fillOpacity: 0.3, curve: "catmull-rom"}),
      Plot.lineX(p.dens, {y: "v", x: "d", stroke: ORANGE_LINE, strokeWidth: 1.2, curve: "catmull-rom"})
    ]
  });
  Object.assign(dchart.style, {position: "absolute", left: (p.dx - 1) + "px", top: (p.y0 - MT) + "px", maxWidth: "none"});
  page.appendChild(dchart);

  const leg = Plot.legend({
    color: {type: "ordinal", domain: legendLabels, range: [ORANGE, BLUE]},
    swatchSize: 16,
    style: {fontFamily: FONT, fontSize: "12px", minHeight: "0px", margin: "0px", color: "#000"}
  });
  Object.assign(leg.style, {position: "absolute", left: p.legL + "px", top: p.legT + "px"});
  page.appendChild(leg);
});

// ---------- text overlay ----------
const ov = d3.select(page).append("svg")
  .attr("width", 676).attr("height", 1554)
  .style("position", "absolute").style("left", "0px").style("top", "0px").style("pointer-events", "none");

panels.forEach((p, k) => {
  ov.append("text").attr("x", 11).attr("y", p.letterY)
    .attr("font-family", SERIF).attr("font-size", 31).attr("fill", "#000").text(panelLetters[k]);

  const t = ov.append("text").attr("x", p.titleX).attr("y", p.titleY)
    .attr("font-family", FONT).attr("font-size", 14).attr("fill", "#000").style("white-space", "pre");
  const parts = [["\u03C3", 0], ["\u03B3", 1], [` = ${titleSigma[k]} ; \u03BC`, 0], ["pred", 1],
                 [` =  ${titleMu[k]} ; g =  ${titleG[k]}`, 0]];
  let shifted = false;
  parts.forEach(([txt, sub]) => {
    const ts = t.append("tspan").text(txt).attr("font-size", sub ? 10 : 14);
    if (sub && !shifted) { ts.attr("dy", 3.5); shifted = true; }
    else if (!sub && shifted) { ts.attr("dy", -3.5); shifted = false; }
  });

  const yc = (p.y0 + p.y1) / 2;
  ov.append("text").attr("transform", `translate(${p.ylabX},${yc}) rotate(-90)`)
    .attr("text-anchor", "middle").attr("dy", "0.35em")
    .attr("font-family", FONT).attr("font-size", 11.5).attr("fill", "#000").text("Trait value");
  ov.append("text").attr("x", (p.x0 + p.x1) / 2).attr("y", p.timeY)
    .attr("text-anchor", "middle")
    .attr("font-family", FONT).attr("font-size", 12).attr("fill", "#000").text("Time");
});

if (problems.length) throw new Error("length mismatch: " + problems.join("; "));
</script>
</body></html>
